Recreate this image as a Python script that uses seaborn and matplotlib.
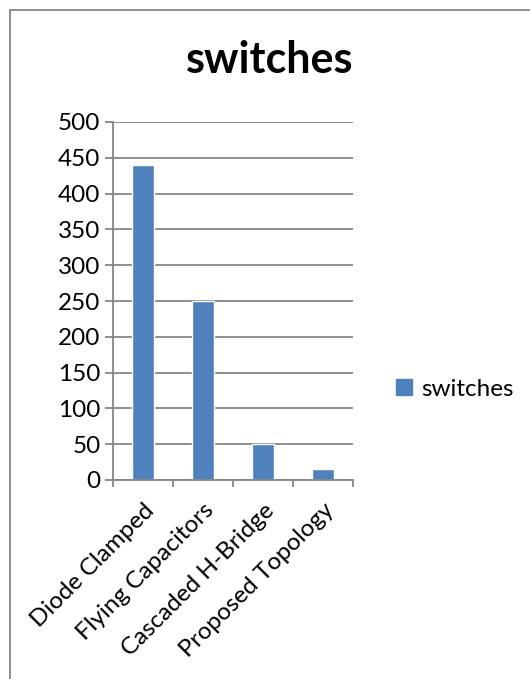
import matplotlib
matplotlib.use('Agg')
import matplotlib.pyplot as plt
from matplotlib.lines import Line2D
import seaborn as sns

categories = ['Diode Clamped', 'Flying Capacitors', 'Cascaded H-Bridge', 'Proposed Topology']
switches = [440, 250, 50, 15]
series_name = 'switches'
y_ticks = [0, 50, 100, 150, 200, 250, 300, 350, 400, 450, 500]

sns.set_style('white')
plt.rcParams['font.family'] = ['Lato', 'DejaVu Sans']
plt.rcParams['text.color'] = 'black'
plt.rcParams['xtick.labelcolor'] = 'black'
plt.rcParams['ytick.labelcolor'] = 'black'

W, H = 530, 679
fig = plt.figure(figsize=(W / 100, H / 100), dpi=100)
ax = fig.add_axes([113 / W, 1 - 480 / H, 240 / W, 358 / H])

grey = '#868686'
sns.barplot(x=categories, y=switches, color='#4F81BD', width=0.38,
            saturation=1, label=series_name, ax=ax, legend=False)

ax.set_ylim(0, 500)
ax.set_xlim(-0.5, 3.5)
ax.set_yticks(y_ticks)
ax.yaxis.grid(True, color=grey, linewidth=1.3)
ax.set_axisbelow(True)
for s in ['top', 'right']:
    ax.spines[s].set_visible(False)
for s in ['left', 'bottom']:
    ax.spines[s].set_color(grey)
    ax.spines[s].set_linewidth(1.3)

ax.tick_params(axis='y', direction='out', length=6, width=1.3, color=grey,
               labelsize=17.5, pad=3, left=True)
# category boundary ticks on x axis
ax.set_xticks([-0.5, 0.5, 1.5, 2.5, 3.5], minor=True)
ax.tick_params(axis='x', which='minor', direction='out', length=5, width=1.3,
               color=grey, bottom=True)
ax.tick_params(axis='x', which='major', length=0, pad=14)
ax.set_xticks(range(len(categories)))
ax.set_xticklabels(categories, rotation=45, ha='right', va='top',
                   rotation_mode='anchor', fontsize=17.5)
ax.set_xlabel('')

fig.text(270 / W, 1 - 60 / H, 'switches', ha='center', va='center',
         fontsize=31, fontweight='bold')

handle = plt.Rectangle((0, 0), 1, 1, color='#4F81BD')
fig.legend([handle], [series_name], loc='center left',
           bbox_to_anchor=(374 / W, 1 - 389 / H), frameon=False,
           fontsize=17.5, handlelength=0.65, handleheight=0.65, handletextpad=0.4)

# chart border
fig.add_artist(Line2D([10 / W, 10 / W], [0, 1 - 10 / H], color=grey, linewidth=1.3))
fig.add_artist(Line2D([10 / W, 1], [1 - 10 / H, 1 - 10 / H], color=grey, linewidth=1.3))

fig.savefig('out.png', dpi=100)
